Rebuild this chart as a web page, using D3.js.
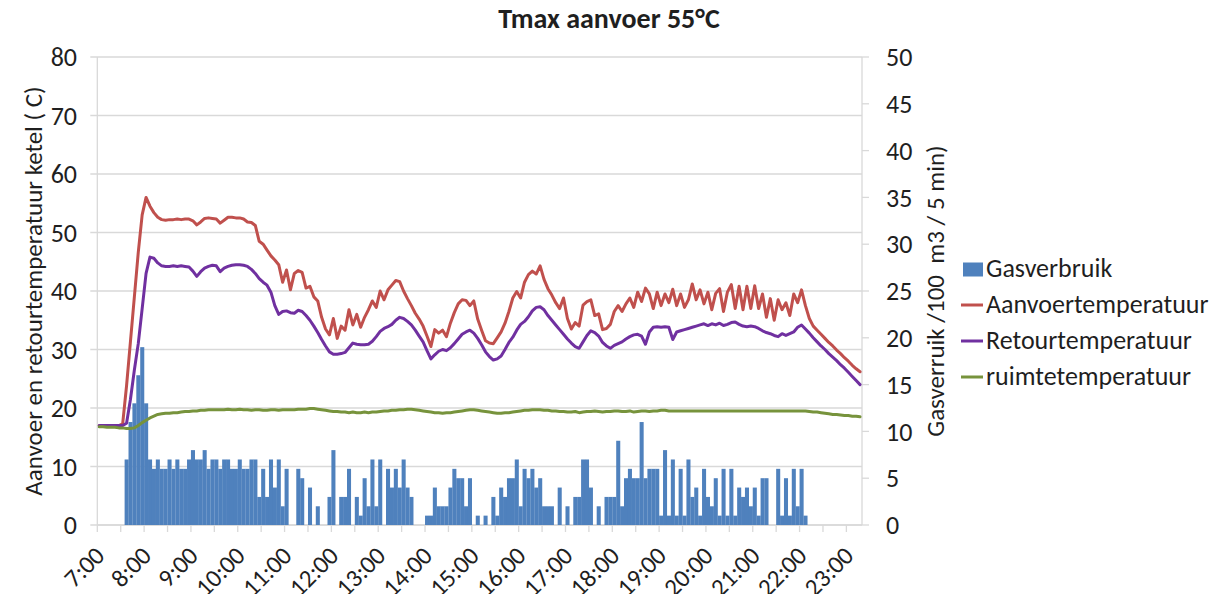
<!DOCTYPE html>
<html>
<head>
<meta charset="utf-8">
<script src="https://cdn.jsdelivr.net/npm/d3@7"></script>
<style>
  html, body { margin: 0; padding: 0; background: #fff; }
  svg text { font-family: Carlito, Calibri, Lato, "Noto Sans", sans-serif; fill: #1f1f1f; }
</style>
</head>
<body>
<svg id="chart" width="1220" height="594"></svg>
<script>
// ---- data (5-minute samples from 7:00) ----
const startTime = "7:00";
const stepMinutes = 5;
const tickLabels = ["7:00","8:00","9:00","10:00","11:00","12:00","13:00","14:00","15:00","16:00","17:00","18:00","19:00","20:00","21:00","22:00","23:00"];
const leftTicks = [0,10,20,30,40,50,60,70,80];
const rightTicks = [0,5,10,15,20,25,30,35,40,45,50];
const seriesNames = ["Gasverbruik","Aanvoertemperatuur","Retourtemperatuur","ruimtetemperatuur"];

const gasverbruik = [
0,0,0,0,0,0,0,7,11,13,16,19,13,7,6,7,6,6,7,6,7,6,6,7,8,7,7,8,6,7,
7,6,7,7,6,6,7,6,6,7,7,3,6,3,7,4,7,2,6,0,0,6,5,0,4,0,2,0,0,3,
8,0,3,3,6,0,3,1,5,2,7,2,7,0,6,4,6,4,7,4,3,0,0,0,1,1,4,2,2,2,
4,6,5,5,2,5,0,1,0,1,0,3,1,4,3,5,5,7,2,6,5,6,4,5,2,2,2,0,4,0,
2,0,3,3,7,7,4,0,2,0,3,3,3,9,2,5,6,5,5,11,5,6,6,6,1,8,1,7,1,6,
1,7,3,4,1,6,3,2,5,1,6,1,6,1,4,3,4,2,4,1,5,5,0,0,6,1,5,1,6,2,
6,1,0,0,0,0,0,0,0,0,0,0,0,0,0,0];

const aanvoer = [
17,17,17,17,17,17,17.3,23.8,31.4,39,46.6,53,56,54.5,53.4,52.6,52.2,52.1,52.2,52.2,
52.3,52.2,52.3,52.3,52,51.3,51.8,52.4,52.5,52.4,52.3,51.6,52.1,52.6,52.6,52.5,52.5,52.3,51.8,51.7,
51.2,48.5,48,47,46,45.3,44.5,41.5,43.6,40.2,43,43.5,43.2,40.5,40.8,39,38.3,35.5,33.5,32.5,
35.3,31.9,34,33.3,36.8,34.2,36,33.8,35.5,36.8,38.3,37.2,40,38.5,40.2,41,41.8,41.6,40,38.7,
37.5,36.2,35.2,34,32.3,30.5,33.4,32.8,33.3,32.2,34.5,36.3,37.8,38.5,38.4,37.5,38.3,35.2,33.3,31.5,
31.1,31,32,33,34.5,36.5,38.8,39.9,38.8,41.5,42.8,43.4,42.9,44.3,42,40.4,39.3,38,37,38.8,
35.3,33.5,34.6,34,37.6,38.2,38.5,35.8,36.1,33.4,33.6,34.3,36.5,37.5,36.5,37.8,38.8,37.2,39.8,38.2,
40.5,39.5,37,39.8,37.5,39.5,38,40.3,37.5,39.5,37.2,38.5,41.2,38.5,40.2,37.8,39.8,36.8,39.6,40.4,
36.5,39.8,41.1,37,40.8,36.8,40.8,37,40.9,37,39.5,35.5,38.7,35,38.5,36.8,38,35.8,39.5,38,
40.2,37.5,35.3,34,33.3,32.6,31.9,31.2,30.6,29.9,29.3,28.6,28,27.3,26.7,26.2];

const retour = [
17,17,17,17,17,17,17,17.4,21.5,26.5,31,37,43,45.8,45.6,44.8,44.3,44.2,44.2,44.3,
44.2,44.3,44.2,44.1,43.4,42.5,43.3,43.9,44.2,44.4,44.3,43.3,43.9,44.2,44.4,44.5,44.5,44.4,44.2,43.7,
43,42.1,41.5,41,39.8,37.5,36,36.5,36.6,36.3,36.2,36.7,36.5,35.8,35,34,32.9,31.7,30.6,29.6,
29.2,29.2,29.3,29.5,30.3,31.1,30.9,30.8,30.8,30.9,31.4,32.2,33.1,33.6,33.9,34.3,35,35.5,35.3,34.8,
34.2,33.3,32.3,31.3,29.8,28.4,29.1,29.7,30,29.8,30.3,31,31.8,32.6,33,33.3,32.8,31.9,30.8,29.6,
28.8,28.2,28.4,28.9,30,31.2,32.1,33.3,34.3,34.8,35.6,36.6,37.2,37.3,36.8,35.8,35,34.2,33.4,32.6,
31.8,31.1,30.5,30.2,31.3,32.4,33.2,32.9,32.3,31.2,30.6,30.2,30.7,31,31.3,31.8,32.2,32.5,32.6,32.3,
30.9,33,33.8,33.9,33.8,33.9,33.8,31.7,33,33.2,33.4,33.6,33.8,34,34.2,34.4,34.1,34.4,34.2,34.5,
34.1,34.3,34.6,34.7,34.3,34,33.9,34,33.9,33.6,33.2,32.9,32.7,32.4,32.2,32.7,32.4,32.7,33,33.8,
34.2,33.5,32.8,32,31.3,30.6,30,29.3,28.7,28.1,27.4,26.8,26.1,25.4,24.7,24];

const ruimte = [
16.8,16.8,16.7,16.7,16.7,16.6,16.6,16.5,16.5,16.6,17,17.5,17.9,18.3,18.6,18.9,19,19.1,19.1,19.2,
19.2,19.3,19.4,19.4,19.5,19.5,19.6,19.6,19.7,19.7,19.7,19.7,19.7,19.8,19.7,19.7,19.8,19.7,19.7,19.6,
19.7,19.7,19.6,19.6,19.7,19.7,19.6,19.7,19.7,19.7,19.7,19.8,19.8,19.8,19.9,19.9,19.8,19.7,19.6,19.5,
19.4,19.4,19.3,19.3,19.2,19.3,19.2,19.2,19.3,19.2,19.3,19.3,19.4,19.5,19.5,19.6,19.6,19.7,19.7,19.8,
19.8,19.7,19.6,19.5,19.4,19.3,19.2,19.2,19.1,19.2,19.2,19.3,19.4,19.5,19.6,19.7,19.7,19.6,19.5,19.4,
19.3,19.2,19.1,19.1,19.2,19.2,19.3,19.4,19.5,19.6,19.6,19.7,19.7,19.7,19.6,19.6,19.5,19.5,19.4,19.4,
19.3,19.3,19.4,19.2,19.3,19.4,19.4,19.5,19.4,19.3,19.4,19.4,19.5,19.5,19.4,19.4,19.5,19.3,19.4,19.5,
19.5,19.4,19.5,19.5,19.6,19.6,19.5,19.5,19.5,19.5,19.5,19.5,19.5,19.5,19.5,19.5,19.5,19.5,19.5,19.5,
19.5,19.5,19.5,19.5,19.5,19.5,19.5,19.5,19.5,19.5,19.5,19.5,19.5,19.5,19.5,19.5,19.5,19.5,19.5,19.5,
19.5,19.5,19.4,19.3,19.3,19.2,19.1,19,18.9,18.9,18.8,18.7,18.7,18.6,18.6,18.5];

const colors = { gas: "#4F81BD", aanvoer: "#C0504D", retour: "#7030A0", ruimte: "#77933C" };

// categories: time labels of each 5-minute sample
const [h0, m0] = startTime.split(":").map(Number);
const categories = gasverbruik.map((_, i) => {
  const t = h0 * 60 + m0 + i * stepMinutes;
  return Math.floor(t / 60) + ":" + String(t % 60).padStart(2, "0");
});

// ---- layout ----
const plot = { left: 97.3, right: 862, top: 57, bottom: 525 };
const svg = d3.select("#chart");
const grid = "#d9d9d9";
const fs = "25px";
const fsTick = "26px";
const fsLegend = "26px";

const x = d3.scaleBand().domain(categories).range([plot.left, plot.right]).padding(0);
const yL = d3.scaleLinear().domain([0, 80]).range([plot.bottom, plot.top]);
const yR = d3.scaleLinear().domain([0, 50]).range([plot.bottom, plot.top]);

// gridlines
svg.append("g").selectAll("line").data(leftTicks).join("line")
  .attr("x1", plot.left - 7).attr("x2", plot.right)
  .attr("y1", d => yL(d)).attr("y2", d => yL(d))
  .attr("stroke", grid).attr("stroke-width", 1.3);

// left axis line
svg.append("line").attr("x1", plot.left).attr("x2", plot.left)
  .attr("y1", plot.top).attr("y2", plot.bottom).attr("stroke", grid).attr("stroke-width", 1.3);
// right axis line + ticks
svg.append("line").attr("x1", plot.right).attr("x2", plot.right)
  .attr("y1", plot.top).attr("y2", plot.bottom).attr("stroke", grid).attr("stroke-width", 1.3);
svg.append("g").selectAll("line").data(rightTicks).join("line")
  .attr("x1", plot.right).attr("x2", plot.right + 7)
  .attr("y1", d => yR(d)).attr("y2", d => yR(d))
  .attr("stroke", grid).attr("stroke-width", 1.3);

// x axis ticks every 30 min (category boundaries)
const tickCats = categories.filter((_, i) => i % 6 === 0);
svg.append("g").selectAll("line").data(tickCats).join("line")
  .attr("x1", d => x(d)).attr("x2", d => x(d))
  .attr("y1", plot.bottom).attr("y2", plot.bottom + 7)
  .attr("stroke", grid).attr("stroke-width", 1.3);
svg.append("line").attr("x1", plot.left).attr("x2", plot.right)
  .attr("y1", plot.bottom).attr("y2", plot.bottom).attr("stroke", grid).attr("stroke-width", 1.3);

// bars
svg.append("g").selectAll("rect").data(gasverbruik.map((v, i) => ({ c: categories[i], v })))
  .join("rect")
  .attr("x", d => x(d.c)).attr("width", x.bandwidth() + 0.15)
  .attr("y", d => yR(d.v)).attr("height", d => yR(0) - yR(d.v))
  .attr("fill", colors.gas);

// lines
const line = d3.line().x((d, i) => x(categories[i]) + x.bandwidth() / 2).y(d => yL(d));
[[aanvoer, colors.aanvoer], [retour, colors.retour], [ruimte, colors.ruimte]].forEach(([data, col]) => {
  svg.append("path").datum(data).attr("d", line)
    .attr("fill", "none").attr("stroke", col).attr("stroke-width", 3)
    .attr("stroke-linejoin", "round").attr("stroke-linecap", "round");
});

// left tick labels
svg.append("g").selectAll("text").data(leftTicks).join("text")
  .attr("x", 77).attr("y", d => yL(d)).attr("dy", "0.35em")
  .attr("text-anchor", "end").style("font-size", fsTick).text(d => d);
// right tick labels
svg.append("g").selectAll("text").data(rightTicks).join("text")
  .attr("x", 886).attr("y", d => yR(d)).attr("dy", "0.35em")
  .attr("text-anchor", "start").style("font-size", fsTick).text(d => d);

// x tick labels (rotated)
svg.append("g").selectAll("text").data(tickLabels).join("text")
  .attr("transform", d => `translate(${x(d) + x.bandwidth() / 2 + 0.5},${plot.bottom + 26}) rotate(-45)`)
  .attr("text-anchor", "end").attr("dy", "0.35em")
  .style("font-size", fs).text(d => d);

// title
svg.append("text").attr("x", 609).attr("y", 18).attr("dy", "0.35em")
  .attr("text-anchor", "middle").style("font-size", "28px").style("font-weight", "bold")
  .text("Tmax aanvoer 55°C");

// axis titles
svg.append("text").attr("transform", `translate(33,${(plot.top + plot.bottom) / 2}) rotate(-90)`)
  .attr("text-anchor", "middle").attr("dy", "0.35em").style("font-size", fs)
  .text("Aanvoer en retourtemperatuur ketel ( C)");
svg.append("text").attr("transform", `translate(935,${(plot.top + plot.bottom) / 2}) rotate(-90)`)
  .attr("text-anchor", "middle").attr("dy", "0.35em").style("font-size", fs)
  .attr("xml:space", "preserve")
  .text("Gasverruik /100  m3 / 5 min)");

// legend
const legendBase = [276.5, 312.5, 348.5, 384.5];
const lg = svg.append("g");
seriesNames.forEach((name, i) => {
  const yy = legendBase[i];
  if (i === 0) {
    lg.append("rect").attr("x", 963).attr("y", yy - 14).attr("width", 20).attr("height", 14).attr("fill", colors.gas);
  } else {
    const col = [null, colors.aanvoer, colors.retour, colors.ruimte][i];
    lg.append("line").attr("x1", 961).attr("x2", 983).attr("y1", yy - 7.5).attr("y2", yy - 7.5)
      .attr("stroke", col).attr("stroke-width", 3);
  }
  lg.append("text").attr("x", 986).attr("y", yy)
    .style("font-size", fsLegend).text(name);
});
</script>
</body>
</html>
